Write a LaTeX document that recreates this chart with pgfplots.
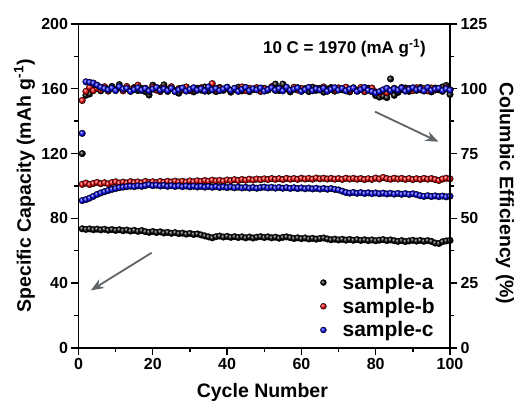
\documentclass[border=0pt]{standalone}
\usepackage{fontspec}
\setmainfont{Liberation Sans}
\usepackage{pgfplots}
\usepackage{pgfplotstable}
\pgfplotsset{compat=1.18}
\usetikzlibrary{arrows.meta}
\definecolor{arrowgray}{RGB}{95,100,105}
\pgfplotstableread{
cyc capA capB capC effA effB effC
1 73.6 101.0 91.0 75.0 95.5 82.8
2 73.2 101.8 91.6 97.5 99.0 102.7
3 73.5 100.9 92.5 98.0 100.6 102.5
4 73.0 101.6 93.6 99.6 99.3 102.2
5 73.4 102.2 94.8 100.4 100.2 101.4
6 72.9 101.4 95.7 99.2 99.6 100.6
7 73.3 102.0 96.5 100.6 100.8 100.1
8 72.7 101.3 97.2 99.4 99.1 99.6
9 73.1 102.1 97.9 100.9 100.3 100.3
10 72.6 102.6 98.4 99.8 99.7 99.3
11 73.0 101.8 99.0 101.6 100.5 100.8
12 72.4 102.4 99.3 99.5 99.2 99.9
13 72.8 101.9 99.6 100.3 100.9 100.2
14 72.2 102.7 99.9 99.1 99.8 99.0
15 72.6 102.1 99.6 100.5 100.1 99.7
16 72.0 102.5 100.1 99.3 101.4 100.4
17 72.5 101.9 99.8 100.1 99.4 99.5
18 71.8 102.8 100.3 98.9 100.2 100.1
19 71.4 102.2 100.8 97.6 99.0 99.2
20 71.9 102.6 100.2 101.4 100.6 99.9
21 71.3 102.0 100.5 99.6 99.5 100.5
22 71.7 102.8 100.0 100.2 98.9 99.4
23 71.0 102.3 100.4 101.5 100.3 100.0
24 71.4 102.9 99.8 99.0 99.7 99.3
25 70.8 102.4 100.2 100.4 100.8 100.2
26 71.2 103.0 99.7 99.2 99.2 98.9
27 70.6 102.5 100.1 98.3 100.1 99.6
28 70.9 102.9 99.6 99.9 99.6 100.3
29 70.3 102.4 100.0 100.6 100.7 99.1
30 70.7 103.1 99.5 99.3 99.3 99.8
31 70.1 102.6 99.9 98.8 100.0 100.4
32 70.4 103.2 99.4 100.2 99.5 99.5
33 69.8 102.8 99.8 99.5 100.4 100.0
34 69.2 103.4 99.3 100.7 99.1 99.2
35 68.6 102.9 99.7 99.1 100.6 100.7
36 68.0 103.6 99.2 100.0 102.0 99.6
37 68.7 103.1 99.6 98.9 99.4 100.1
38 69.1 103.5 99.1 100.5 100.2 99.3
39 68.5 103.0 99.5 99.4 99.8 99.9
40 68.9 103.7 99.0 100.1 100.5 100.6
41 68.3 103.3 99.4 98.7 99.2 99.4
42 68.7 103.9 98.9 99.8 100.0 100.2
43 68.2 103.4 99.3 100.6 99.6 99.0
44 68.6 104.0 98.8 99.2 100.7 99.8
45 68.0 103.6 99.2 100.3 99.3 100.5
46 68.5 104.2 98.7 98.9 100.2 99.3
47 67.9 103.7 99.1 99.7 99.7 100.0
48 68.4 104.3 98.6 100.4 100.4 99.6
49 68.7 103.9 99.0 99.0 99.1 100.3
50 68.2 104.4 99.3 100.2 100.1 99.1
51 68.6 104.0 98.8 99.6 99.5 99.7
52 68.0 104.6 99.2 100.5 100.8 100.4
53 68.4 104.1 98.7 101.8 99.4 99.5
54 67.8 104.5 99.1 99.3 100.0 100.1
55 68.3 104.0 98.6 101.8 99.7 99.2
56 68.6 104.7 99.0 100.0 100.3 100.6
57 68.1 104.2 98.5 98.8 99.2 99.4
58 67.6 104.6 98.9 99.9 100.6 99.9
59 68.0 104.1 98.4 100.4 99.5 100.3
60 67.5 104.8 98.8 99.2 100.1 99.0
61 67.9 104.3 98.3 100.1 99.8 99.7
62 67.3 104.7 98.7 98.9 100.4 100.5
63 67.7 104.2 98.2 100.6 99.3 99.3
64 67.2 104.9 98.6 99.4 100.2 100.0
65 67.6 104.4 98.1 100.2 99.6 99.6
66 67.9 104.8 98.5 98.7 100.7 100.2
67 67.3 104.3 98.0 99.9 99.1 99.1
68 66.8 104.7 98.4 100.5 100.0 99.8
69 67.2 104.2 97.9 99.1 99.5 100.4
70 66.7 104.6 97.6 100.3 100.3 99.5
71 67.1 104.1 96.8 99.6 99.8 100.1
72 66.6 104.8 96.0 100.0 100.6 99.2
73 67.0 104.3 95.6 98.8 99.2 99.9
74 66.5 104.7 96.0 100.4 100.1 100.3
75 66.9 104.2 95.5 99.3 99.4 99.0
76 66.4 104.6 95.9 99.9 100.5 99.7
77 66.8 104.0 95.4 98.9 99.0 100.5
78 66.3 104.5 95.8 100.2 99.8 99.4
79 66.7 104.1 95.3 99.5 100.3 98.9
80 66.2 104.9 95.7 97.4 98.8 98.4
81 66.6 104.3 95.2 96.8 98.3 98.9
82 66.9 105.3 95.6 97.2 99.1 99.6
83 66.3 104.6 95.1 96.6 98.5 100.2
84 66.7 104.2 95.5 103.8 99.0 99.3
85 66.2 104.8 95.0 97.5 100.2 100.0
86 65.8 104.3 95.4 98.6 99.4 99.5
87 66.3 104.7 94.9 99.7 100.5 100.3
88 65.7 104.1 95.3 100.3 99.7 99.1
89 66.1 104.6 94.8 99.0 100.1 99.8
90 66.5 104.0 95.2 100.1 99.3 100.4
91 66.0 104.5 94.7 99.4 100.4 99.6
92 66.4 104.1 94.0 100.5 99.6 100.0
93 65.9 104.7 93.6 99.2 100.0 99.2
94 66.3 104.2 94.0 99.9 99.2 100.5
95 65.8 104.6 93.5 98.8 100.3 99.4
96 64.8 104.0 93.9 100.3 99.5 99.9
97 64.5 103.4 93.4 99.6 100.1 100.2
98 65.6 104.3 93.8 100.7 99.0 99.3
99 66.1 104.8 93.3 101.3 100.4 100.0
100 66.4 104.4 93.7 97.8 99.6 99.5
}\datatable
\pgfplotsset{
  common/.style={
    at={(0pt,0pt)}, anchor=south west,
    scale only axis, width=371.5pt, height=324pt,
    xmin=0, xmax=100,
    tick align=outside,
    major tick length=7pt, minor tick length=4pt,
    minor tick num=1,
    axis line style={line width=1.6pt},
    every tick/.style={line width=1.4pt, black},
    /pgf/number format/assume math mode=true,
    tick label style={font=\bfseries\fontsize{16}{16}\selectfont},
    label style={font=\bfseries\fontsize{19.5}{20}\selectfont},
    clip=false,
  },
}
\begin{document}
\begin{tikzpicture}
\useasboundingbox (-78.5pt,-55pt) rectangle (436.5pt,348pt);
\begin{axis}[common,
  ymin=0, ymax=200,
  xtick={0,20,...,100}, ytick={0,40,...,200},
  xtick pos=left, ytick pos=left,
  xlabel={Cycle Number},
  ylabel={Specific Capacity (mAh g\textsuperscript{-1})},
  xlabel style={at={(axis description cs:0.495,-0.154)}, anchor=base},
  ylabel style={at={(axis description cs:-0.1454,0.5)}, anchor=center, rotate=0},
  legend style={at={(axis description cs:0.965,0.023)}, anchor=south east,
    draw=none, fill=none, inner sep=0pt, row sep=3pt,
    nodes={inner sep=2pt},
    font=\bfseries\fontsize{21}{21}\selectfont},
  legend cell align=left,
  legend image code/.code={%
    \path (0pt,-1pt) (17pt,1pt);
    \draw[#1, mark size=3pt] plot coordinates {(0pt,0pt)};},
]
\addplot[only marks, mark=ball, ball color=black, mark size=3.3pt] table[x=cyc, y=capA] {\datatable};
\addlegendentry{sample-a}
\addplot[only marks, mark=ball, ball color=red, mark size=3.3pt] table[x=cyc, y=capB] {\datatable};
\addlegendentry{sample-b}
\addplot[only marks, mark=ball, ball color=blue, mark size=3.3pt] table[x=cyc, y=capC] {\datatable};
\addlegendentry{sample-c}
\draw[-{Stealth[length=13pt,width=10pt]}, line width=1.8pt, arrowgray] (axis cs:79.8,145.9) -- (axis cs:96.9,127.3);
\draw[-{Stealth[length=13pt,width=10pt]}, line width=1.8pt, arrowgray] (axis cs:19.7,58.8) -- (axis cs:3.3,35.5);
\node[font=\bfseries\fontsize{17}{17}\selectfont, anchor=center] at (axis cs:71.6,185.2) {10 C = 1970 (mA g\textsuperscript{-1})};
\end{axis}
\begin{axis}[common,
  ymin=0, ymax=125,
  ytick={0,25,...,125},
  hide x axis,
  axis y line*=right,
  ylabel={Columbic Efficiency (\%)},
  ylabel style={at={(axis description cs:1.148,0.477)}, anchor=center, rotate=180},
]
\addplot[only marks, mark=ball, ball color=black, mark size=3.3pt] table[x=cyc, y=effA] {\datatable};
\addplot[only marks, mark=ball, ball color=red, mark size=3.3pt] table[x=cyc, y=effB] {\datatable};
\addplot[only marks, mark=ball, ball color=blue, mark size=3.3pt] table[x=cyc, y=effC] {\datatable};
\end{axis}
\end{tikzpicture}
\end{document}
